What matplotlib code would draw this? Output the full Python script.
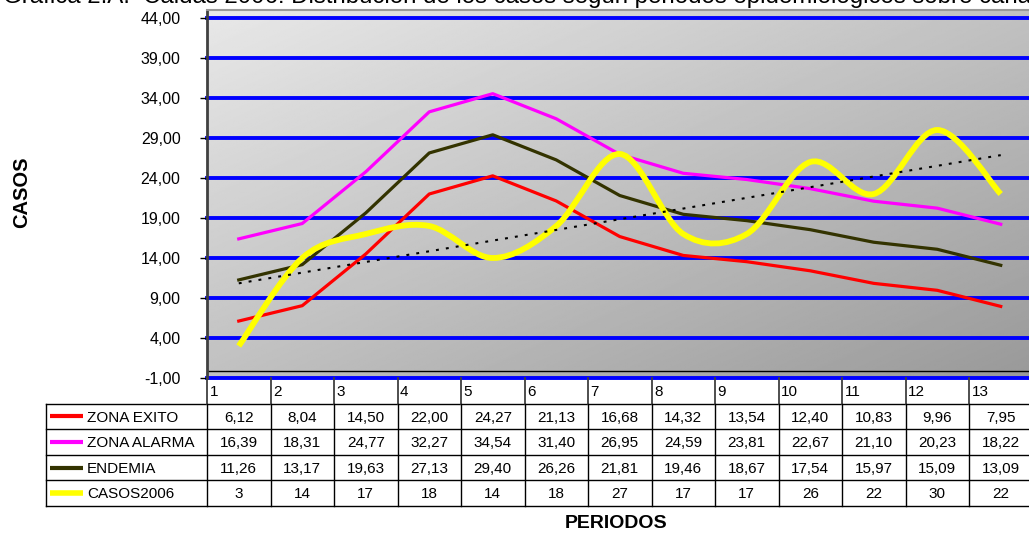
import numpy as np
import matplotlib
matplotlib.use("Agg")
import matplotlib.pyplot as plt
from matplotlib.path import Path
from matplotlib.patches import PathPatch

plt.rcParams['font.family'] = ['Liberation Sans', 'DejaVu Sans']

# datos por periodo epidemiologico
periodos = list(range(1, 14))
zona_exito = [6.12, 8.04, 14.50, 22.00, 24.27, 21.13, 16.68, 14.32, 13.54, 12.40, 10.83, 9.96, 7.95]
zona_alarma = [16.39, 18.31, 24.77, 32.27, 34.54, 31.40, 26.95, 24.59, 23.81, 22.67, 21.10, 20.23, 18.22]
endemia = [11.26, 13.17, 19.63, 27.13, 29.40, 26.26, 21.81, 19.46, 18.67, 17.54, 15.97, 15.09, 13.09]
casos2006 = [3, 14, 17, 18, 14, 18, 27, 17, 17, 26, 22, 30, 22]
y_ticks = np.arange(-1, 45, 5)

titulo = ("Grafica 2.A.  Caidas 2006: Distribución de los casos según periodos "
          "epidemiológicos sobre canal endémico")

W, H = 1029, 535
fig = plt.figure(figsize=(W / 100, H / 100), dpi=100)


def fx(px):
    return px / W


def fy(py):
    return 1 - py / H


# zona del grafico (se sale un poco por la derecha)
x0, x1 = 207, 1032.5
top, bot = 10, 378
ax = fig.add_axes([fx(x0), fy(bot), (x1 - x0) / W, (bot - top) / H])
ax.set_xlim(0.5, 13.5)
ax.set_ylim(-1, 45)

# fondo degradado gris
g = np.linspace(0, 1, 300)
gx, gy = np.meshgrid(g, g)
fondo = 0.91 - 0.31 * (gx + gy) / 2
ax.imshow(fondo, cmap='gray', vmin=0, vmax=1, extent=(0, 1, 0, 1),
          transform=ax.transAxes, aspect='auto', origin='upper', zorder=0)

for y in y_ticks:
    ax.axhline(y, color='#0000ff', lw=2.8, zorder=1, clip_on=False)
ax.axhline(-0.1, color='black', lw=1, zorder=1)

ax.spines['top'].set_color('#999999')
ax.spines['top'].set_linewidth(1.5)
ax.spines['left'].set_color('#404040')
ax.spines['left'].set_linewidth(2)
ax.spines['right'].set_visible(False)
ax.spines['bottom'].set_visible(False)

ax.set_xticks([])
ax.set_yticks(y_ticks)
ax.set_yticklabels([f"{v:.2f}".replace('.', ',') for v in y_ticks])
ax.tick_params(axis='y', length=5, width=1, pad=14, labelsize=11.5)

ax.plot(periodos, zona_exito, color='#ff0000', lw=2.3, zorder=3, solid_joinstyle='round')
ax.plot(periodos, zona_alarma, color='#ff00ff', lw=2.3, zorder=3, solid_joinstyle='round')
ax.plot(periodos, endemia, color='#333300', lw=2.3, zorder=3, solid_joinstyle='round')


def curva_suave(xs, ys):
    p = np.column_stack([xs, ys]).astype(float)
    ext = np.vstack([p[0], p, p[-1]])
    verts = [p[0]]
    codes = [Path.MOVETO]
    for i in range(len(p) - 1):
        c1 = p[i] + (ext[i + 2] - ext[i]) / 6
        c2 = p[i + 1] - (ext[i + 3] - ext[i + 1]) / 6
        verts += [c1, c2, p[i + 1]]
        codes += [Path.CURVE4] * 3
    return Path(verts, codes)


ax.add_patch(PathPatch(curva_suave(periodos, casos2006), facecolor='none',
                       edgecolor='#ffff00', lw=4.2, zorder=4, capstyle='butt'))

# linea de tendencia de los casos
coef = np.polyfit(periodos, casos2006, 1)
ax.plot(periodos, np.polyval(coef, periodos), color='black', lw=1.5,
        ls=(0, (1.4, 3.4)), zorder=5)

# tabla de datos debajo
t_left, t_bot = 46, 506
ancho_cat = (x1 - x0) / 13


def u(px):
    return 0.5 + (px - x0) / ancho_cat


tax = fig.add_axes([fx(t_left), fy(t_bot), (x1 - t_left) / W, (t_bot - bot) / H])
tax.set_xlim(u(t_left), 13.5)
tax.set_ylim(5, 0)
tax.axis('off')

for r in range(1, 6):
    tax.plot([u(t_left), 13.5], [r, r], color='black', lw=1, clip_on=False)
tax.plot([u(t_left), u(t_left)], [1, 5], color='black', lw=1, clip_on=False)
for k in range(14):
    xl = k + 0.5
    tax.plot([xl, xl], [0, 1], color='#404040', lw=1.3, clip_on=False)
    tax.plot([xl, xl], [1, 5], color='black', lw=1, clip_on=False)

for p in periodos:
    tax.text(p - 0.5 + 0.04, 0.55, str(p), ha='left', va='center', fontsize=11)

series = [
    ("ZONA EXITO", zona_exito, '#ff0000', 3),
    ("ZONA ALARMA", zona_alarma, '#ff00ff', 3),
    ("ENDEMIA", endemia, '#333300', 3),
    ("CASOS2006", casos2006, '#ffff00', 4),
]
for r, (nombre, vals, col, lw) in enumerate(series, start=1):
    yc = r + 0.5
    tax.plot([u(50), u(83)], [yc, yc], color=col, lw=lw, solid_capstyle='butt')
    tax.text(u(87), yc + 0.05, nombre, ha='left', va='center', fontsize=11)
    for p, v in zip(periodos, vals):
        txt = str(v) if isinstance(v, int) else f"{v:.2f}".replace('.', ',')
        tax.text(p, yc + 0.05, txt, ha='center', va='center', fontsize=11)

fig.text(fx(22), fy(192), "CASOS", rotation=90, ha='center', va='center',
         fontsize=14.5, fontweight='bold')
fig.text(fx(616), fy(523), "PERIODOS", ha='center', va='center',
         fontsize=14, fontweight='bold')
fig.text(fx(3), fy(2.5), titulo, ha='left', va='baseline', fontsize=17.3)

fig.savefig('out.png', dpi=100)
